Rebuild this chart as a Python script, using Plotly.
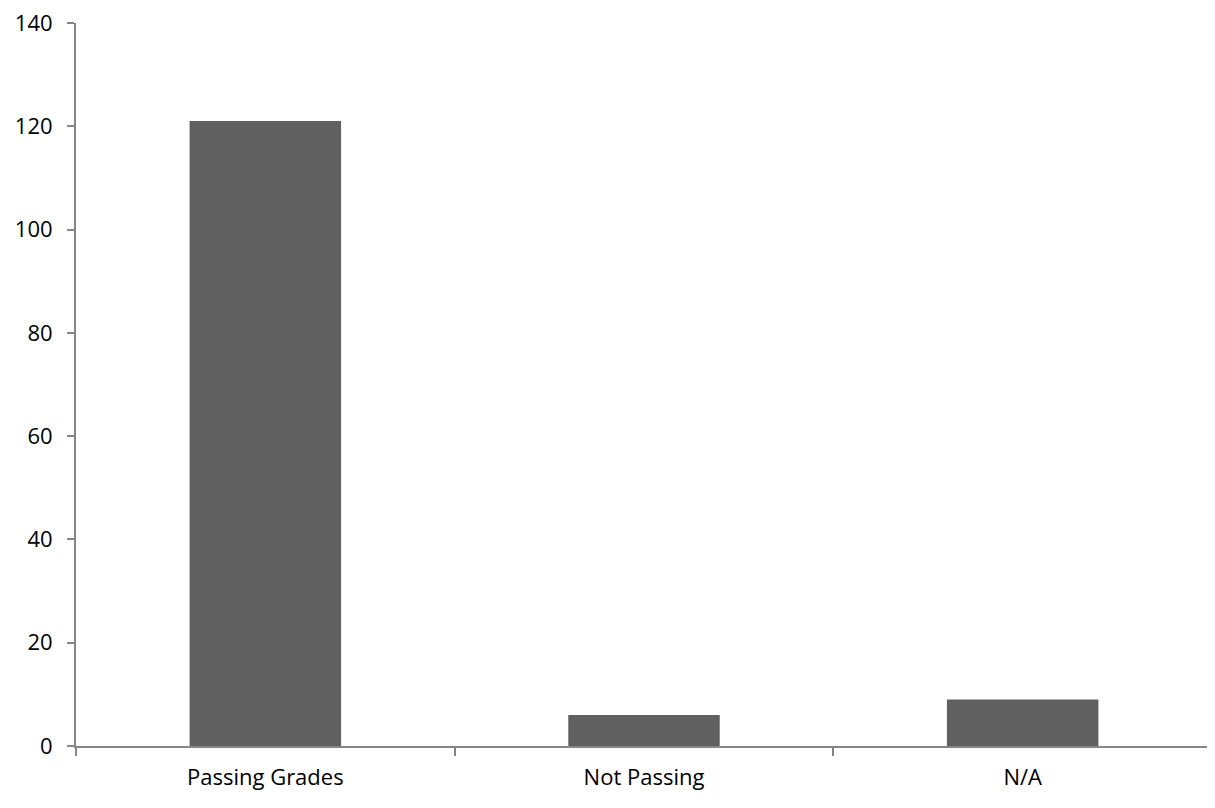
import plotly.graph_objects as go

categories = ["Passing Grades", "Not Passing", "N/A"]
values = [121, 6, 9]
y_ticks = [0, 20, 40, 60, 80, 100, 120, 140]

fig = go.Figure(go.Bar(x=categories, y=values, marker=dict(color="#606060", line=dict(width=0))))
fig.update_layout(
    width=1207, height=800,
    margin=dict(l=68, r=3, t=15, b=62, autoexpand=False),
    paper_bgcolor="white", plot_bgcolor="white",
    bargap=0.6,
    font=dict(family="Open Sans, sans-serif", size=22, color="black"),
    showlegend=False,
)
fig.update_xaxes(showline=True, linecolor="#868686", linewidth=2, ticks="outside",
                 tickson="boundaries", ticklen=8, tickcolor="#868686", tickwidth=2,
                 showgrid=False, ticklabelstandoff=11, automargin=False)
fig.update_yaxes(range=[0, 140], tickvals=y_ticks, showline=True, linecolor="#868686",
                 linewidth=2, ticks="outside", ticklen=7, tickcolor="#868686", tickwidth=2,
                 showgrid=False, zeroline=False, ticklabelstandoff=10, automargin=False,
                 ticklabeloverflow="allow")
fig.write_html("out.html")
